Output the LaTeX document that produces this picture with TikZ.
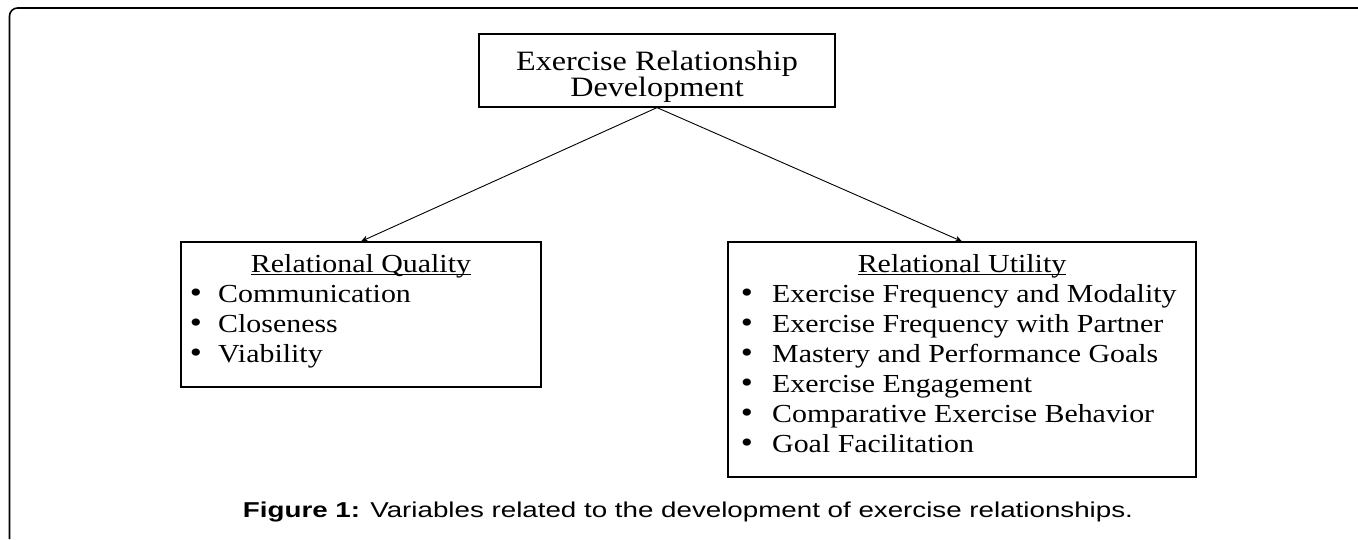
\documentclass[tikz,border=0pt]{standalone}
\usepackage{fontspec}
\setmainfont{Liberation Serif}[FakeStretch=1.15]
\newfontfamily\capfont{Liberation Sans}[FakeStretch=1.29]
\usetikzlibrary{arrows.meta}

\begin{document}
\begin{tikzpicture}[x=1pt,y=-1pt]
    \tikzset{% This is the style settings for boxes and texts
    box/.style={draw,line width=1.2pt,inner sep=0pt},
    head/.style={anchor=base,inner sep=0pt,font=\fontsize{26}{28}\selectfont},
    item/.style={anchor=base west,inner sep=0pt,font=\fontsize{26}{28}\selectfont},
    dot/.style={anchor=base,inner sep=0pt,font=\fontsize{30}{30}\selectfont},
    c1/.style={-{Stealth[length=7pt,width=6pt]},line width=0.9pt},
    ul/.style={line width=1pt},
    }
    \useasboundingbox (0,0) rectangle (1358,539);
    % Frame
    \draw[line width=1.6pt,rounded corners=8pt] (9.5,539) -- (9.5,8) -- (1358,8);

    % Top box
    \node[box,minimum width=356pt,minimum height=73pt] (erd) at (657,70.5) {};
    \node[head,font=\fontsize{28}{28}\selectfont] (erd1) at (657,70.7) {Exercise Relationship};
    \node[head,font=\fontsize{28}{28}\selectfont] (erd2) at (657,96.7) {Development};

    % Relational Quality
    \node[box,minimum width=360pt,minimum height=145pt] (rq) at (361,314.5) {};
    \node[head] (rqt) at (361,272) {Relational Quality};
    \draw[ul] ([yshift=-2.5pt]rqt.base west) -- ([yshift=-2.5pt]rqt.base east);
    \foreach \t [count=\i] in {Communication,Closeness,Viability}{
        \node[dot] (rqd\i) at (196,272+30*\i) {•};
        \node[item] (rqi\i) at (218,272+30*\i) {\t};
    }

    % Relational Utility
    \node[box,minimum width=468pt,minimum height=235pt] (ru) at (962,359.5) {};
    \node[head] (rut) at (962,272) {Relational Utility};
    \draw[ul] ([yshift=-2.5pt]rut.base west) -- ([yshift=-2.5pt]rut.base east);
    \foreach \t [count=\i] in {Exercise Frequency and Modality,Exercise Frequency with Partner,
        Mastery and Performance Goals,Exercise Engagement,Comparative Exercise Behavior,Goal Facilitation}{
        \node[dot] (rud\i) at (747,272+30*\i) {•};
        \node[item] (rui\i) at (772,272+30*\i) {\t};
    }

    % Edges
    \draw[c1] (erd.south) -- (rq.north);
    \draw[c1] (erd.south) -- (ru.north);

    % Caption
    \node[anchor=base,inner sep=0pt,font=\capfont\fontsize{21.5}{24}\selectfont] (cap) at (688,517)
        {\textbf{Figure 1:} Variables related to the development of exercise relationships.};
\end{tikzpicture}
\end{document}
